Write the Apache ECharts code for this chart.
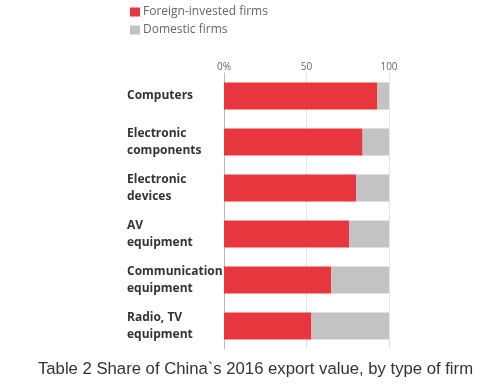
<!DOCTYPE html>
<html>
<head>
<meta charset="utf-8">
<script src="https://cdn.jsdelivr.net/npm/echarts@6/dist/echarts.min.js"></script>
<style>html,body{margin:0;padding:0;background:#fff}#c{width:490px;height:384px}</style>
</head>
<body>
<div id="c"></div>
<script>
var categories = ['Computers', 'Electronic\ncomponents', 'Electronic\ndevices', 'AV\nequipment', 'Communication\nequipment', 'Radio, TV\nequipment'];
var foreignShare = [93, 84, 80, 76, 65, 53];
var domesticShare = [7, 16, 20, 24, 35, 47];
var xTicks = [0, 50, 100];
var seriesNames = ['Foreign-invested firms', 'Domestic firms'];
var titleText = 'Table 2 Share of China`s 2016 export value, by type of firm';

var chart = echarts.init(document.getElementById('c'));
chart.setOption({
  animation: false,
  backgroundColor: '#fff',
  title: {
    text: titleText,
    left: 33, top: 356,
    textStyle: {fontFamily: 'Liberation Sans', fontSize: 16.7, fontWeight: 'normal', color: '#333'}
  },
  legend: {
    orient: 'vertical', left: 125, top: 1, itemGap: 6,
    icon: 'rect', itemWidth: 10, itemHeight: 9,
    data: seriesNames,
    textStyle: {fontFamily: 'Open Sans', fontSize: 12, color: '#666', padding: [0, 0, 0, -2]}
  },
  grid: {left: 224, right: 101, top: 73, height: 276},
  xAxis: {
    type: 'value', position: 'top', min: 0, max: 100, interval: 50,
    axisLabel: {
      margin: 1, color: '#666', fontFamily: 'Open Sans', fontSize: 10,
      formatter: function (v) { return xTicks.indexOf(v) === 0 ? '0%' : String(v); }
    },
    axisLine: {show: false}, axisTick: {show: false},
    splitLine: {lineStyle: {color: '#e4e4e4', width: 1}}
  },
  yAxis: {
    type: 'category', inverse: true, data: categories,
    axisLine: {show: true, lineStyle: {color: '#bbb'}},
    axisTick: {show: false},
    axisLabel: {
      align: 'left', margin: 97, color: '#333', fontFamily: 'Open Sans',
      fontWeight: 'bold', fontSize: 12, lineHeight: 17
    }
  },
  series: [
    {name: seriesNames[0], type: 'bar', stack: 's', data: foreignShare, barCategoryGap: '41%',
     itemStyle: {color: '#e8363f'}},
    {name: seriesNames[1], type: 'bar', stack: 's', data: domesticShare,
     itemStyle: {color: '#c3c3c3'}}
  ]
});
</script>
</body>
</html>
